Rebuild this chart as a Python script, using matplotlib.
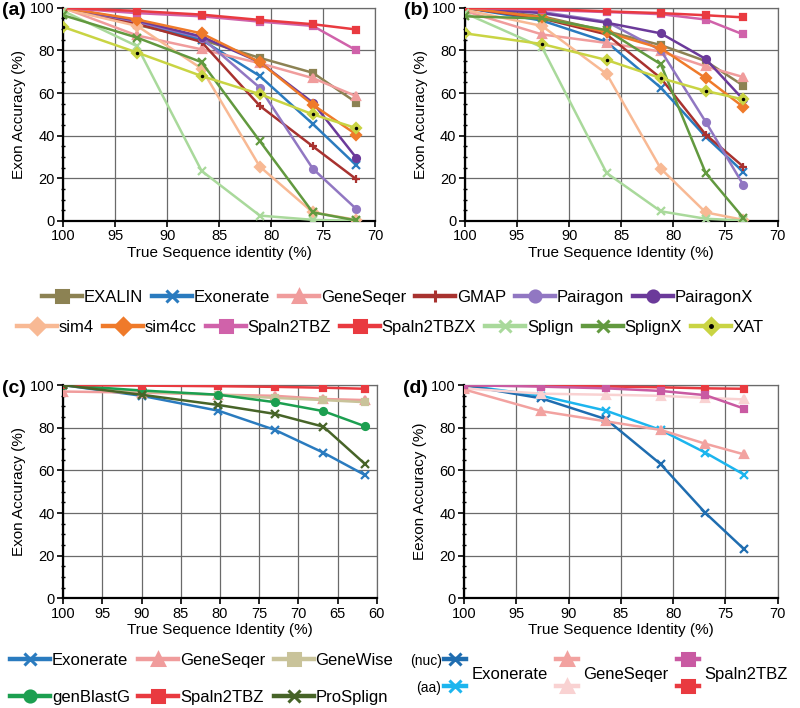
"""Exon accuracy vs. true sequence identity, four panels (a)-(d)."""

import matplotlib

matplotlib.use("Agg")
import matplotlib.pyplot as plt
from matplotlib.legend_handler import HandlerBase, HandlerTuple
from matplotlib.lines import Line2D
from matplotlib.ticker import MultipleLocator

plt.rcParams["font.family"] = ["Liberation Sans", "DejaVu Sans"]

# ---- data -----------------------------------------------------------------
x_a = [100, 92.9, 86.7, 81.1, 76.0, 71.8]
x_b = [100, 92.6, 86.4, 81.2, 76.9, 73.3]
x_c = [100, 90.0, 80.2, 73.0, 66.8, 61.5]
x_d = [100, 92.6, 86.4, 81.2, 76.9, 73.2]

tools_ab = ["EXALIN", "Exonerate", "GeneSeqer", "GMAP", "Pairagon", "PairagonX",
            "sim4", "sim4cc", "Spaln2TBZ", "Spaln2TBZX", "Splign", "SplignX", "XAT"]

acc_a = {
    "EXALIN": [100, 92, 85, 76.5, 69.5, 55.5],
    "Exonerate": [100, 93.5, 85, 68, 45.5, 26],
    "GeneSeqer": [100, 87, 80.5, 74, 67, 58.5],
    "GMAP": [100, 92.5, 84, 54, 35, 19.5],
    "Pairagon": [100, 93.5, 86, 62.5, 24.5, 5.5],
    "PairagonX": [100, 94, 86.5, 74.5, 55.5, 29.5],
    "sim4": [99.5, 91.5, 71.5, 25.5, 4, 0.5],
    "sim4cc": [100, 94.5, 88, 74.5, 54.5, 40.5],
    "Spaln2TBZ": [100, 97.5, 96, 93.5, 91.5, 80],
    "Spaln2TBZX": [100, 98.5, 96.8, 94.3, 92.3, 89.8],
    "Splign": [98.5, 82, 23.5, 2.5, 0.5, 0],
    "SplignX": [96.5, 86, 74.5, 37.5, 4, 0.2],
    "XAT": [91, 79, 68, 59.5, 50, 43.5],
}

acc_b = {
    "EXALIN": [100, 96, 89, 82.5, 75, 63.5],
    "Exonerate": [100, 94, 84, 62.5, 39.5, 23],
    "GeneSeqer": [98.5, 87.5, 83.5, 79.5, 72.5, 67.5],
    "GMAP": [100, 95, 87.5, 67, 40.5, 25.5],
    "Pairagon": [100, 98, 93.5, 80, 46.5, 17],
    "PairagonX": [100, 97.5, 93, 88, 76, 57],
    "sim4": [99, 91.5, 69, 24.5, 4, 0.5],
    "sim4cc": [100, 95.5, 88.5, 81, 67, 53.5],
    "Spaln2TBZ": [100, 99, 98, 97, 94.5, 87.5],
    "Spaln2TBZX": [100, 99.5, 98.3, 97.5, 96.5, 95.5],
    "Splign": [97.5, 81.5, 22.5, 4.5, 1, 0.2],
    "SplignX": [96, 95, 89.5, 73.5, 22.5, 1.5],
    "XAT": [88, 83, 75.5, 67, 61, 57],
}

tools_c = ["Exonerate", "GeneSeqer", "GeneWise", "genBlastG", "Spaln2TBZ", "ProSplign"]
acc_c = {
    "Exonerate": [100, 95, 88, 79, 68.3, 57.8],
    "GeneSeqer": [97, 96.5, 95.5, 95, 93.5, 93],
    "GeneWise": [100, 97, 95.5, 94, 93, 92],
    "genBlastG": [100, 97.5, 95.5, 92, 87.8, 80.7],
    "Spaln2TBZ": [100, 99.8, 99.5, 99.2, 98.8, 98.3],
    "ProSplign": [100, 95.5, 90.7, 86.5, 80.5, 63],
}

tools_d = ["Exonerate", "GeneSeqer", "Spaln2TBZ"]
acc_d_nuc = {
    "Exonerate": [100, 93.8, 84, 63, 40, 23],
    "GeneSeqer": [98, 87.8, 83, 79, 72.5, 67.5],
    "Spaln2TBZ": [100, 99.3, 98.5, 97.3, 95.3, 89],
}
acc_d_aa = {
    "Exonerate": [100, 95, 88, 79, 68.3, 58],
    "GeneSeqer": [98.5, 96, 95.5, 95, 94, 93.3],
    "Spaln2TBZ": [100, 99.7, 99.4, 99, 98.5, 98.3],
}

# ---- styles ---------------------------------------------------------------
style_ab = {
    "EXALIN": ("#8c8253", "s"),
    "Exonerate": ("#2a7bbf", "x"),
    "GeneSeqer": ("#f09c9c", "^"),
    "GMAP": ("#a8322f", "+"),
    "Pairagon": ("#9177c2", "o"),
    "PairagonX": ("#6b3a9a", "o"),
    "sim4": ("#f8b994", "D"),
    "sim4cc": ("#ef7a2a", "D"),
    "Spaln2TBZ": ("#d062aa", "s"),
    "Spaln2TBZX": ("#e93a40", "s"),
    "Splign": ("#a9d99b", "x"),
    "SplignX": ("#62993f", "x"),
    "XAT": ("#c9d443", "D"),
}
style_c = {
    "Exonerate": ("#2a7bbf", "x"),
    "GeneSeqer": ("#f09c9c", "^"),
    "GeneWise": ("#c9c39a", "s"),
    "genBlastG": ("#1c9f50", "o"),
    "Spaln2TBZ": ("#e93a40", "s"),
    "ProSplign": ("#476428", "x"),
}
style_d_nuc = {
    "Exonerate": ("#1f6db0", "x"),
    "GeneSeqer": ("#f2a2a0", "^"),
    "Spaln2TBZ": ("#c95aa2", "s"),
}
style_d_aa = {
    "Exonerate": ("#1cb5ee", "x"),
    "GeneSeqer": ("#f9d2d2", "^"),
    "Spaln2TBZ": ("#e93a40", "s"),
}

GRID = "#6a6a6a"


def draw_series(ax, x, y, color, marker):
    ms = 5 if marker in ("s", "o") else 5.5
    ax.plot(x, y, color=color, lw=1.8, marker=marker, ms=ms, mew=1.6,
            mfc=color, mec=color, zorder=3)
    if color == style_ab["XAT"][0] and marker == "D":
        ax.plot(x, y, ls="none", marker="o", ms=1.5, color="black", zorder=4)


def style_axes(ax, xmin, label, xlabel, ylabel):
    ax.set_xlim(100, xmin)
    ax.set_ylim(0, 100)
    ax.xaxis.set_major_locator(MultipleLocator(5))
    ax.yaxis.set_major_locator(MultipleLocator(20))
    ax.yaxis.set_minor_locator(MultipleLocator(5))
    ax.grid(True, which="major", color=GRID, lw=0.9)
    ax.set_axisbelow(True)
    for side in ("top", "right"):
        ax.spines[side].set_color(GRID)
        ax.spines[side].set_linewidth(0.9)
    for side in ("left", "bottom"):
        ax.spines[side].set_linewidth(1.6)
    ax.tick_params(axis="both", which="major", labelsize=10.5, length=4,
                   width=1.2, direction="out", pad=2)
    ax.tick_params(axis="y", which="minor", length=3, width=1.0, direction="inout")
    ax.set_xlabel(xlabel, fontsize=11, labelpad=2)
    ax.set_ylabel(ylabel, fontsize=11, labelpad=3)
    ax.text(-0.195, 0.985, label, transform=ax.transAxes, fontsize=14,
            fontweight="bold", ha="left", va="center")


fig = plt.figure(figsize=(8.0, 7.08), dpi=100)
ax_a = fig.add_axes([0.079, 0.688, 0.390, 0.301])
ax_b = fig.add_axes([0.581, 0.688, 0.391, 0.301])
ax_c = fig.add_axes([0.079, 0.155, 0.392, 0.301])
ax_d = fig.add_axes([0.580, 0.155, 0.392, 0.301])

for name in tools_ab:
    color, marker = style_ab[name]
    draw_series(ax_a, x_a, acc_a[name], color, marker)
    draw_series(ax_b, x_b, acc_b[name], color, marker)

for name in tools_c:
    color, marker = style_c[name]
    draw_series(ax_c, x_c, acc_c[name], color, marker)

for name in tools_d:
    color, marker = style_d_aa[name]
    draw_series(ax_d, x_d, acc_d_aa[name], color, marker)
    color, marker = style_d_nuc[name]
    draw_series(ax_d, x_d, acc_d_nuc[name], color, marker)

style_axes(ax_a, 70, "(a)", "True Sequence identity (%)", "Exon Accuracy (%)")
style_axes(ax_b, 70, "(b)", "True Sequence Identity (%)", "Exon Accuracy (%)")
style_axes(ax_c, 60, "(c)", "True Sequence Identity (%)", "Exon Accuracy (%)")
style_axes(ax_d, 70, "(d)", "True Sequence Identity (%)", "Eexon Accuracy (%)")


# ---- legends --------------------------------------------------------------
def proxy(color, marker):
    ms = 8 if marker in ("s", "o", "D", "^") else 8.5
    line = Line2D([], [], color=color, lw=3.2, marker=marker, ms=ms, mew=2.2,
                  mfc=color, mec=color)
    if marker == "D" and color == style_ab["XAT"][0]:
        dot = Line2D([], [], ls="none", marker="o", ms=2.5, color="black")
        return (line, dot)
    return line


leg_kw = dict(frameon=False, fontsize=12, handlelength=2.4, handletextpad=0.1,
              columnspacing=0.55, borderpad=0, borderaxespad=0,
              handler_map={tuple: HandlerTuple(ndivide=1)})

row1 = tools_ab[:6]
row2 = tools_ab[6:]
fig.legend([proxy(*style_ab[n]) for n in row1], row1, ncol=6, loc="center",
           bbox_to_anchor=(0.497, 0.580), **leg_kw)
fig.legend([proxy(*style_ab[n]) for n in row2], row2, ncol=7, loc="center",
           bbox_to_anchor=(0.488, 0.538), **leg_kw)

# legend fills column by column; reorder so it reads row by row
order_c = [tools_c[i] for i in (0, 3, 1, 4, 2, 5)]
fig.legend([proxy(*style_c[n]) for n in order_c], order_c, ncol=3, loc="center",
           bbox_to_anchor=(0.252, 0.041), labelspacing=1.3,
           **{**leg_kw, "columnspacing": 0.5})


class PairHandler(HandlerBase):
    """Two short line+marker handles stacked vertically (nuc on top, aa below)."""

    def create_artists(self, legend, orig_handle, xdescent, ydescent, width,
                       height, fontsize, trans):
        ymid = (height - ydescent) / 2
        gap = 0.8 * fontsize
        artists = []
        for h, y in zip(orig_handle, (ymid + gap, ymid - gap)):
            ln = Line2D([-xdescent, -xdescent + width], [y, y], color=h.get_color(),
                        lw=h.get_linewidth())
            mk = Line2D([-xdescent + width / 2], [y], ls="none", marker=h.get_marker(),
                        ms=h.get_markersize(), mew=h.get_markeredgewidth(),
                        color=h.get_color())
            for a in (ln, mk):
                a.set_transform(trans)
                artists.append(a)
        return artists


pairs = [(proxy(*style_d_nuc[n]), proxy(*style_d_aa[n])) for n in tools_d]
fig.legend(pairs, tools_d, ncol=3, loc="center", bbox_to_anchor=(0.77, 0.048),
           frameon=False, fontsize=12, handlelength=1.3, handletextpad=0.35,
           columnspacing=0.5, borderpad=0, borderaxespad=0,
           handler_map={tuple: PairHandler()})
fig.text(0.553, 0.066, "(nuc)", fontsize=10, ha="right", va="center")
fig.text(0.551, 0.028, "(aa)", fontsize=10, ha="right", va="center")

fig.savefig("out.png", dpi=100)
